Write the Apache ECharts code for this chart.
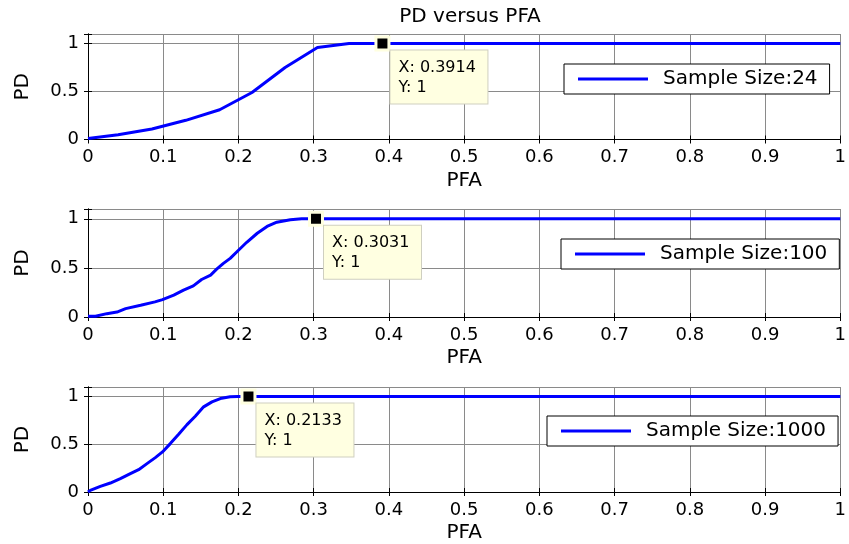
<!DOCTYPE html>
<html>
<head>
<meta charset="utf-8">
<script src="https://cdn.jsdelivr.net/npm/echarts@6/dist/echarts.min.js"></script>
<style>
  html, body { margin: 0; padding: 0; background: #fff; }
  #chart { width: 849px; height: 544px; }
</style>
</head>
<body>
<div id="chart"></div>
<script>
// ROC curves (probability of detection vs probability of false alarm)
const sampleSizes = [24, 100, 1000];

const pfa24 = [0, 0.04, 0.085, 0.13, 0.175, 0.218, 0.262, 0.305, 0.347, 1];
const pd24  = [0.01, 0.05, 0.11, 0.2, 0.31, 0.49, 0.75, 0.96, 1, 1];

const pfa100 = [0, 0.01, 0.025, 0.0385, 0.05, 0.07, 0.089, 0.099, 0.114, 0.127, 0.14, 0.151,
                0.163, 0.171, 0.18, 0.189, 0.199, 0.211, 0.225, 0.238, 0.251, 0.269, 0.284, 1];
const pd100  = [0.007, 0.007, 0.034, 0.05, 0.085, 0.12, 0.154, 0.177, 0.222, 0.273, 0.317, 0.382,
                0.427, 0.488, 0.546, 0.597, 0.672, 0.761, 0.853, 0.922, 0.966, 0.99, 1, 1];

const pfa1000 = [0, 0.003, 0.0164, 0.0297, 0.043, 0.0563, 0.0673, 0.0784, 0.0895, 0.099, 0.1094,
                 0.1205, 0.1316, 0.1426, 0.1537, 0.1648, 0.1759, 0.189, 0.199, 1];
const pd1000  = [0, 0.017, 0.059, 0.094, 0.14, 0.192, 0.234, 0.297, 0.36, 0.42, 0.507,
                 0.605, 0.706, 0.794, 0.892, 0.944, 0.979, 0.997, 1, 1];

// data cursor points
const tipX = [0.3914, 0.3031, 0.2133];
const tipY = [1, 1, 1];

const xTickLabels = ['0', '0.1', '0.2', '0.3', '0.4', '0.5', '0.6', '0.7', '0.8', '0.9', '1'];
const yTickLabels = ['0', '0.5', '1'];

const curves = [[pfa24, pd24], [pfa100, pd100], [pfa1000, pd1000]];

const FONT = 'DejaVu Sans';
const gridBoxes = [
  { top: 34, height: 105.5 },
  { top: 209, height: 108 },
  { top: 387, height: 105 }
];
const legendPos = [
  { left: 564, top: 64 },
  { left: 561, top: 239 },
  { left: 547, top: 416 }
];

function xLabel(v) {
  const i = Math.round(v * 10);
  return Math.abs(v * 10 - i) < 1e-6 && i >= 0 && i < xTickLabels.length ? xTickLabels[i] : '';
}
function yLabel(v) {
  const i = Math.round(v * 2);
  return Math.abs(v * 2 - i) < 1e-6 && i >= 0 && i < yTickLabels.length ? yTickLabels[i] : '';
}

const grid = [], xAxis = [], yAxis = [], series = [], legend = [];

gridBoxes.forEach((g, k) => {
  grid.push({ left: 88, right: 7, top: g.top, height: g.height, containLabel: false });

  const boxLine = { show: true, lineStyle: { color: '#000', width: 1 } };
  xAxis.push({
    type: 'value', gridIndex: k, position: 'bottom', min: 0, max: 1, interval: 0.1,
    name: 'PFA', nameLocation: 'middle', nameGap: 31,
    nameTextStyle: { fontFamily: FONT, fontSize: 20, color: '#000' },
    axisLine: boxLine,
    axisTick: { show: true, inside: true, length: 4, lineStyle: { color: '#000' } },
    axisLabel: { fontFamily: FONT, fontSize: 18, color: '#000', margin: 9, formatter: xLabel },
    splitLine: { show: true, lineStyle: { color: '#8a8a8a', width: 1 } }
  });
  xAxis.push({
    type: 'value', gridIndex: k, position: 'top', min: 0, max: 1, interval: 0.1,
    axisLine: boxLine,
    axisTick: { show: true, inside: true, length: 4, lineStyle: { color: '#000' } },
    axisLabel: { show: false },
    splitLine: { show: false }
  });
  yAxis.push({
    type: 'value', gridIndex: k, position: 'left', min: 0, max: 1.1, interval: 0.5,
    name: 'PD', nameLocation: 'middle', nameGap: 55,
    nameTextStyle: { fontFamily: FONT, fontSize: 20, color: '#000' },
    axisLine: boxLine,
    axisTick: { show: true, inside: true, length: 4, lineStyle: { color: '#000' } },
    axisLabel: { fontFamily: FONT, fontSize: 18, color: '#000', margin: 9, formatter: yLabel },
    splitLine: { show: true, lineStyle: { color: '#8a8a8a', width: 1 } }
  });
  yAxis.push({
    type: 'value', gridIndex: k, position: 'right', min: 0, max: 1.1, interval: 0.5,
    axisLine: boxLine,
    axisTick: { show: true, inside: true, length: 4, lineStyle: { color: '#000' } },
    axisLabel: { show: false },
    splitLine: { show: false }
  });

  const name = 'Sample Size:' + sampleSizes[k];
  const [xs, ys] = curves[k];
  series.push({
    name: name, type: 'line', xAxisIndex: 2 * k, yAxisIndex: 2 * k,
    data: xs.map((x, i) => [x, ys[i]]),
    showSymbol: false, symbol: 'none', animation: false, z: 3,
    lineStyle: { color: '#0000ff', width: 3 },
    itemStyle: { color: '#0000ff' }
  });
  series.push({
    name: 'tip' + k, type: 'scatter', xAxisIndex: 2 * k, yAxisIndex: 2 * k,
    data: [[tipX[k], tipY[k]]],
    symbol: 'rect', symbolSize: 13, animation: false, z: 5,
    itemStyle: { color: '#000', borderColor: '#ffffe0', borderWidth: 3, opacity: 1 },
    label: {
      show: true, position: [16, 15], align: 'left', verticalAlign: 'top',
      formatter: p => 'X: ' + p.value[0] + '\nY: ' + p.value[1],
      fontFamily: FONT, fontSize: 16, color: '#000', lineHeight: 20, opacity: 1,
      backgroundColor: '#ffffe1', borderColor: '#cfcfc0', borderWidth: 1,
      padding: [7, 8, 6, 8], width: 81
    },
    emphasis: { disabled: true }
  });

  legend.push({
    data: [name], left: legendPos[k].left, top: legendPos[k].top,
    orient: 'horizontal', selectedMode: false,
    backgroundColor: '#fff', borderColor: '#000', borderWidth: 1,
    padding: [5, 12, 5, 14],
    icon: 'rect', itemWidth: 70, itemHeight: 3,
    formatter: n => '{t|' + n + '}',
    textStyle: {
      fontFamily: FONT, fontSize: 20, color: '#000',
      rich: { t: { fontFamily: FONT, fontSize: 20, color: '#000', padding: [0, 0, 0, 10], lineHeight: 22 } }
    }
  });
});

const chart = echarts.init(document.getElementById('chart'), null, { renderer: 'canvas' });
chart.setOption({
  animation: false,
  backgroundColor: '#fff',
  title: {
    text: 'PD versus PFA', left: 465, top: 2, textAlign: 'center',
    textStyle: { fontFamily: FONT, fontSize: 20, fontWeight: 'normal', color: '#000' }
  },
  grid: grid,
  xAxis: xAxis,
  yAxis: yAxis,
  legend: legend,
  series: series
});
</script>
</body>
</html>
